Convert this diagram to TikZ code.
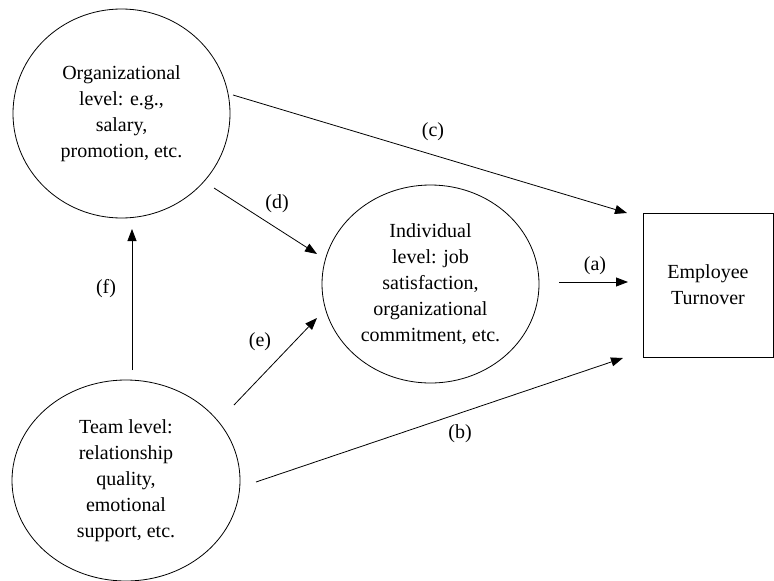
\documentclass[tikz,border=0pt]{standalone}
\usepackage{fontspec}
\setmainfont{Liberation Serif}
\usetikzlibrary{shapes.geometric,arrows.meta}
\begin{document}
\begin{tikzpicture}[x=1pt,y=-1pt,
  txt/.style={font=\fontsize{20}{26}\selectfont, align=center},
  circ/.style={draw, ellipse, inner sep=0pt, line width=0.8pt, txt},
  boxnode/.style={draw, rectangle, inner sep=0pt, line width=0.8pt, txt},
  lbl/.style={font=\fontsize{20}{24}\selectfont, inner sep=0pt},
  arr/.style={line width=0.8pt, -{Triangle[length=12pt,width=9pt]}}]
\useasboundingbox (0,0) rectangle (774,581);

\node[circ, minimum width=217pt, minimum height=209pt] (org) at (121.5,113.5)
  {Organizational\\level: e.g.,\\salary,\\promotion, etc.};
\node[circ, minimum width=217pt, minimum height=198pt] (ind) at (430.5,284)
  {Individual\\level: job\\satisfaction,\\organizational\\commitment, etc.};
\node[circ, minimum width=228pt, minimum height=201pt] (team) at (126,480.5)
  {Team level:\\relationship\\quality,\\emotional\\support, etc.};
\node[boxnode, minimum width=130pt, minimum height=144pt] (turn) at (708,285)
  {Employee\\Turnover};

% arrow end points
\coordinate (cS) at (233,95);  \coordinate (cE) at (627,213);
\coordinate (dS) at (214,188); \coordinate (dE) at (317,254);
\coordinate (aS) at (559,282); \coordinate (aE) at (628,282);
\coordinate (eS) at (234,405); \coordinate (eE) at (317,318);
\coordinate (bS) at (256,482); \coordinate (bE) at (623,358);
\coordinate (fS) at (132,370); \coordinate (fE) at (132,229);

\draw[arr] (cS) -- (cE);
\draw[arr] (dS) -- (dE);
\draw[arr] (aS) -- (aE);
\draw[arr] (eS) -- (eE);
\draw[arr] (bS) -- (bE);
\draw[arr] (fS) -- (fE);

\node[lbl] (la) at (595,266) {(a)};
\node[lbl] (lb) at (460,434) {(b)};
\node[lbl] (lc) at (433,132) {(c)};
\node[lbl] (ld) at (277,204) {(d)};
\node[lbl] (le) at (260,342) {(e)};
\node[lbl] (lf) at (106,289) {(f)};
\end{tikzpicture}
\end{document}
